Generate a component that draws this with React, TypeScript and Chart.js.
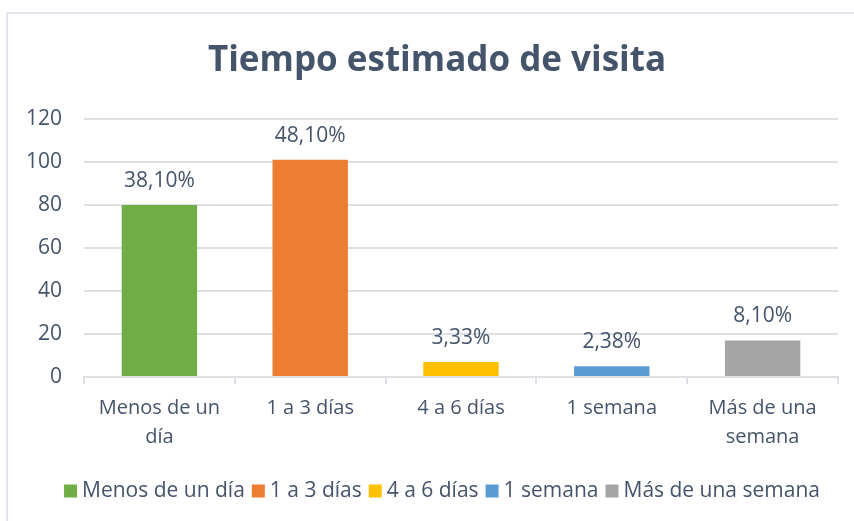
import React, { useEffect, useRef } from "react";
import { Chart, registerables } from "chart.js";

Chart.register(...registerables);

const chartTitle = "Tiempo estimado de visita";
const categories: (string | string[])[] = [
  ["Menos de un", "día"],
  "1 a 3 días",
  "4 a 6 días",
  "1 semana",
  ["Más de una", "semana"],
];
const legendLabels = ["Menos de un día", "1 a 3 días", "4 a 6 días", "1 semana", "Más de una semana"];
const values = [80, 101, 7, 5, 17];
const percentLabels = ["38,10%", "48,10%", "3,33%", "2,38%", "8,10%"];
const colors = ["#70AD47", "#ED7D31", "#FFC000", "#5B9BD5", "#A5A5A5"];
const yTicks = [0, 20, 40, 60, 80, 100, 120];

const FONT = "'Open Sans', 'Noto Sans', sans-serif";
const TEXT = "#44546A";
const GRID = "#DDE1E6";
const FS = 20;

const dataLabelPlugin = {
  id: "dataLabels",
  afterDatasetsDraw(chart: any) {
    const ctx = chart.ctx;
    const meta = chart.getDatasetMeta(0);
    ctx.save();
    ctx.font = `21px ${FONT}`;
    ctx.fillStyle = TEXT;
    ctx.textAlign = "center";
    ctx.textBaseline = "middle";
    meta.data.forEach((bar: any, i: number) => {
      ctx.fillText(percentLabels[i], bar.x, bar.y - 24);
    });
    ctx.restore();
  },
};

const titlePlugin = {
  id: "customTitle",
  afterDraw(chart: any) {
    const ctx = chart.ctx;
    ctx.save();
    ctx.font = `bold 35px ${FONT}`;
    ctx.fillStyle = TEXT;
    ctx.textAlign = "center";
    ctx.textBaseline = "middle";
    ctx.fillText(chartTitle, 437, 61);
    ctx.restore();
  },
};

const customLegendPlugin = {
  id: "customLegend",
  afterDraw(chart: any) {
    const ctx = chart.ctx;
    ctx.save();
    ctx.font = `21px ${FONT}`;
    const box = 13;
    const gapText = 5;
    const gapItem = 7;
    const widths = legendLabels.map((t) => box + gapText + ctx.measureText(t).width);
    const total = widths.reduce((a, b) => a + b, 0) + gapItem * (legendLabels.length - 1);
    let x = 442 - total / 2;
    const y = 491;
    ctx.textBaseline = "middle";
    ctx.textAlign = "left";
    legendLabels.forEach((t, i) => {
      ctx.fillStyle = colors[i];
      ctx.fillRect(x, y - box / 2, box, box);
      ctx.fillStyle = TEXT;
      ctx.fillText(t, x + box + gapText, y);
      x += widths[i] + gapItem;
    });
    ctx.restore();
  },
};

export default function App() {
  const ref = useRef<HTMLCanvasElement | null>(null);
  useEffect(() => {
    if (!ref.current) return;
    const chart = new Chart(ref.current, {
      type: "bar",
      data: {
        labels: categories as any,
        datasets: [
          {
            data: values,
            backgroundColor: colors,
            borderWidth: 0,
            barPercentage: 0.5,
            categoryPercentage: 1,
          },
        ],
      },
      options: {
        animation: false,
        responsive: false,
        maintainAspectRatio: false,
        layout: { padding: { left: 0, right: 16, top: 119, bottom: 54 } },
        plugins: {
          title: { display: false },
          legend: { display: false },
          tooltip: { enabled: false },
        },
        scales: {
          x: {
            grid: {
              offset: true,
              drawOnChartArea: false,
              drawTicks: true,
              tickLength: 7,
              color: GRID,
              lineWidth: 2,
            },
            border: { display: true, color: GRID, width: 2 },
            ticks: {
              color: TEXT,
              font: { family: FONT, size: FS, lineHeight: 1.45 },
              padding: 10,
              maxRotation: 0,
              autoSkip: false,
            },
            afterFit: (s: any) => {
              s.height = 90;
            },
          },
          y: {
            min: 0,
            max: 120,
            afterBuildTicks: (s: any) => {
              s.ticks = yTicks.map((v) => ({ value: v }));
            },
            grid: { color: GRID, lineWidth: 2, drawTicks: false },
            border: { display: false },
            ticks: {
              color: TEXT,
              font: { family: FONT, size: 21 },
              padding: 22,
            },
            afterFit: (s: any) => {
              s.width = 84;
            },
          },
        },
      },
      plugins: [dataLabelPlugin, titlePlugin, customLegendPlugin],
    });
    return () => chart.destroy();
  }, []);

  return (
    <div style={{ position: "fixed", left: 0, top: 0, width: 854, height: 521, overflow: "hidden", background: "#fff" }}>
      <div
        style={{
          position: "absolute",
          left: 6,
          top: 12,
          width: 900,
          height: 600,
          borderTop: "2px solid #E1E4EA",
          borderLeft: "2px solid #E1E4EA",
        }}
      />
      <canvas ref={ref} width={854} height={521} style={{ position: "absolute", left: 0, top: 0 }} />
    </div>
  );
}
